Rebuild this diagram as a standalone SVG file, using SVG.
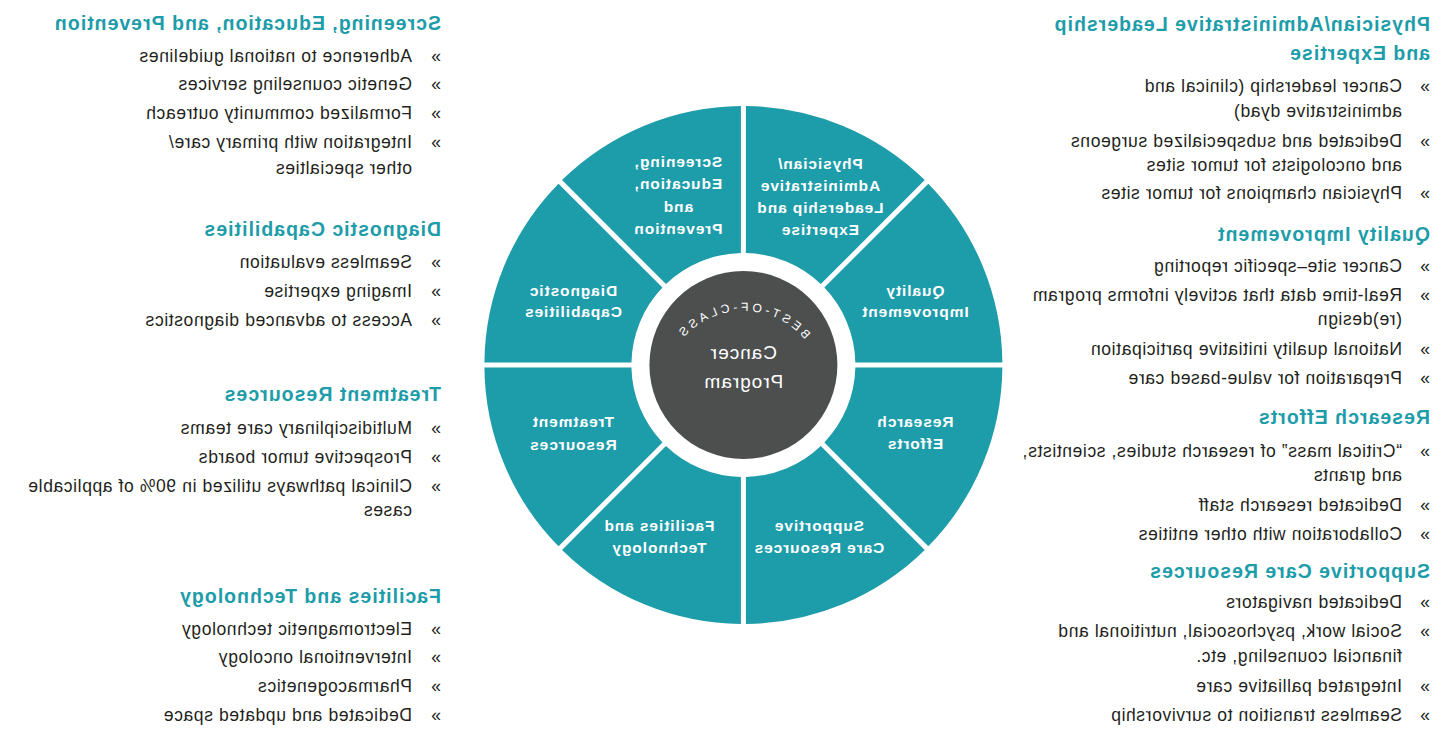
<svg xmlns="http://www.w3.org/2000/svg" xmlns:xlink="http://www.w3.org/1999/xlink" width="1447" height="740" viewBox="0 0 1447 740">
<style>
.h{font-family:"Liberation Sans",Arial,sans-serif;font-weight:bold;font-size:19.5px;letter-spacing:1px;fill:#1d9ca9}
.b{font-family:"Liberation Sans",Arial,sans-serif;font-size:17.5px;letter-spacing:0.6px;fill:#231f20}
.wedge{fill:#1d9ca9}
.wl{font-family:"Liberation Sans",Arial,sans-serif;font-weight:bold;font-size:15.5px;letter-spacing:0.9px;fill:#ffffff;text-anchor:middle}
.core{fill:#4d4f4f}
.c{font-family:"Liberation Sans",Arial,sans-serif;font-size:19px;letter-spacing:1px;fill:#ffffff;text-anchor:middle}
.arc{font-family:"Liberation Sans",Arial,sans-serif;font-size:12px;letter-spacing:3.5px;fill:#ffffff}
</style>
<defs>
<path id="wedge" d="M 2.5 -258.988 A 259 259 0 0 1 181.364 -184.9 L 77.408 -80.944 A 112 112 0 0 0 2.5 -111.972 Z"/>
<path id="arcpath" d="M 622.6 392 A 81 81 0 0 1 784.6 392"/>
</defs>
<rect width="1447" height="740" fill="#ffffff"/>
<g transform="matrix(-1 0 0 1 1447 0)">
  <g id="connectors"></g>

  <g id="seg-screening">
    <use href="#wedge" class="wedge" transform="translate(703.6 365) rotate(0)"/>
    <text class="wl"><tspan x="769" y="167">Screening,</tspan><tspan x="769" y="189">Education,</tspan><tspan x="769" y="212">and</tspan><tspan x="769" y="234">Prevention</tspan></text>
  </g>
  <g id="seg-diagnostic">
    <use href="#wedge" class="wedge" transform="translate(703.6 365) rotate(45)"/>
    <text class="wl"><tspan x="874" y="296">Diagnostic</tspan><tspan x="874" y="317">Capabilities</tspan></text>
  </g>
  <g id="seg-treatment">
    <use href="#wedge" class="wedge" transform="translate(703.6 365) rotate(90)"/>
    <text class="wl"><tspan x="874" y="427">Treatment</tspan><tspan x="874" y="450">Resources</tspan></text>
  </g>
  <g id="seg-facilities">
    <use href="#wedge" class="wedge" transform="translate(703.6 365) rotate(135)"/>
    <text class="wl"><tspan x="788" y="531">Facilities and</tspan><tspan x="788" y="553">Technology</tspan></text>
  </g>
  <g id="seg-supportive">
    <use href="#wedge" class="wedge" transform="translate(703.6 365) rotate(180)"/>
    <text class="wl"><tspan x="628" y="531">Supportive</tspan><tspan x="628" y="553">Care Resources</tspan></text>
  </g>
  <g id="seg-research">
    <use href="#wedge" class="wedge" transform="translate(703.6 365) rotate(225)"/>
    <text class="wl"><tspan x="532" y="427">Research</tspan><tspan x="532" y="449">Efforts</tspan></text>
  </g>
  <g id="seg-quality">
    <use href="#wedge" class="wedge" transform="translate(703.6 365) rotate(270)"/>
    <text class="wl"><tspan x="532" y="296">Quality</tspan><tspan x="532" y="317">Improvement</tspan></text>
  </g>
  <g id="seg-physician">
    <use href="#wedge" class="wedge" transform="translate(703.6 365) rotate(315)"/>
    <text class="wl"><tspan x="627" y="169">Physician/</tspan><tspan x="627" y="191">Administrative</tspan><tspan x="627" y="213">Leadership and</tspan><tspan x="627" y="235">Expertise</tspan></text>
  </g>

  <g id="center">
    <circle class="core" cx="703.6" cy="365" r="94"/>
    <text class="arc"><textPath href="#arcpath" startOffset="50%" text-anchor="middle">BEST-OF-CLASS</textPath></text>
    <text class="c"><tspan x="703.6" y="359">Cancer</tspan><tspan x="703.6" y="388">Program</tspan></text>
  </g>

  <g id="list-physician">
    <text class="h"><tspan x="17" y="30.5">Physician/Administrative Leadership</tspan><tspan x="17" y="60">and Expertise</tspan></text>
    <text class="b" x="17" y="92">»</text>
    <text class="b"><tspan x="45" y="92">Cancer leadership (clinical and</tspan><tspan x="45" y="117">administrative dyad)</tspan></text>
    <text class="b" x="17" y="147">»</text>
    <text class="b"><tspan x="45" y="147">Dedicated and subspecialized surgeons</tspan><tspan x="45" y="171">and oncologists for tumor sites</tspan></text>
    <text class="b" x="17" y="199">»</text>
    <text class="b" x="45" y="199">Physician champions for tumor sites</text>
  </g>
  <g id="list-quality">
    <text class="h" x="17" y="241">Quality Improvement</text>
    <text class="b" x="17" y="272">»</text>
    <text class="b" x="45" y="272">Cancer site–specific reporting</text>
    <text class="b" x="17" y="301">»</text>
    <text class="b"><tspan x="45" y="301">Real-time data that actively informs program</tspan><tspan x="45" y="325">(re)design</tspan></text>
    <text class="b" x="17" y="355">»</text>
    <text class="b" x="45" y="355">National quality initiative participation</text>
    <text class="b" x="17" y="384">»</text>
    <text class="b" x="45" y="384">Preparation for value-based care</text>
  </g>
  <g id="list-research">
    <text class="h" x="17" y="424">Research Efforts</text>
    <text class="b" x="17" y="457">»</text>
    <text class="b"><tspan x="45" y="457">“Critical mass” of research studies, scientists,</tspan><tspan x="45" y="481">and grants</tspan></text>
    <text class="b" x="17" y="511">»</text>
    <text class="b" x="45" y="511">Dedicated research staff</text>
    <text class="b" x="17" y="540">»</text>
    <text class="b" x="45" y="540">Collaboration with other entities</text>
  </g>
  <g id="list-supportive">
    <text class="h" x="17" y="578">Supportive Care Resources</text>
    <text class="b" x="17" y="608">»</text>
    <text class="b" x="45" y="608">Dedicated navigators</text>
    <text class="b" x="17" y="637">»</text>
    <text class="b"><tspan x="45" y="637">Social work, psychosocial, nutritional and</tspan><tspan x="45" y="662">financial counseling, etc.</tspan></text>
    <text class="b" x="17" y="692">»</text>
    <text class="b" x="45" y="692">Integrated palliative care</text>
    <text class="b" x="17" y="721">»</text>
    <text class="b" x="45" y="721">Seamless transition to survivorship</text>
  </g>

  <g id="list-screening">
    <text class="h" x="1006" y="30">Screening, Education, and Prevention</text>
    <text class="b" x="1006" y="62">»</text>
    <text class="b" x="1035" y="62">Adherence to national guidelines</text>
    <text class="b" x="1006" y="90">»</text>
    <text class="b" x="1035" y="90">Genetic counseling services</text>
    <text class="b" x="1006" y="119">»</text>
    <text class="b" x="1035" y="119">Formalized community outreach</text>
    <text class="b" x="1006" y="148">»</text>
    <text class="b"><tspan x="1035" y="148">Integration with primary care/</tspan><tspan x="1035" y="174">other specialties</tspan></text>
  </g>
  <g id="list-diagnostic">
    <text class="h" x="1006" y="236">Diagnostic Capabilities</text>
    <text class="b" x="1006" y="268">»</text>
    <text class="b" x="1035" y="268">Seamless evaluation</text>
    <text class="b" x="1006" y="297">»</text>
    <text class="b" x="1035" y="297">Imaging expertise</text>
    <text class="b" x="1006" y="326">»</text>
    <text class="b" x="1035" y="326">Access to advanced diagnostics</text>
  </g>
  <g id="list-treatment">
    <text class="h" x="1006" y="401">Treatment Resources</text>
    <text class="b" x="1006" y="434">»</text>
    <text class="b" x="1035" y="434">Multidisciplinary care teams</text>
    <text class="b" x="1006" y="463">»</text>
    <text class="b" x="1035" y="463">Prospective tumor boards</text>
    <text class="b" x="1006" y="492">»</text>
    <text class="b"><tspan x="1035" y="492">Clinical pathways utilized in 90% of applicable</tspan><tspan x="1035" y="516">cases</tspan></text>
  </g>
  <g id="list-facilities">
    <text class="h" x="1006" y="603">Facilities and Technology</text>
    <text class="b" x="1006" y="635">»</text>
    <text class="b" x="1035" y="635">Electromagnetic technology</text>
    <text class="b" x="1006" y="663">»</text>
    <text class="b" x="1035" y="663">Interventional oncology</text>
    <text class="b" x="1006" y="692">»</text>
    <text class="b" x="1035" y="692">Pharmacogenetics</text>
    <text class="b" x="1006" y="721">»</text>
    <text class="b" x="1035" y="721">Dedicated and updated space</text>
  </g>
</g>
</svg>
